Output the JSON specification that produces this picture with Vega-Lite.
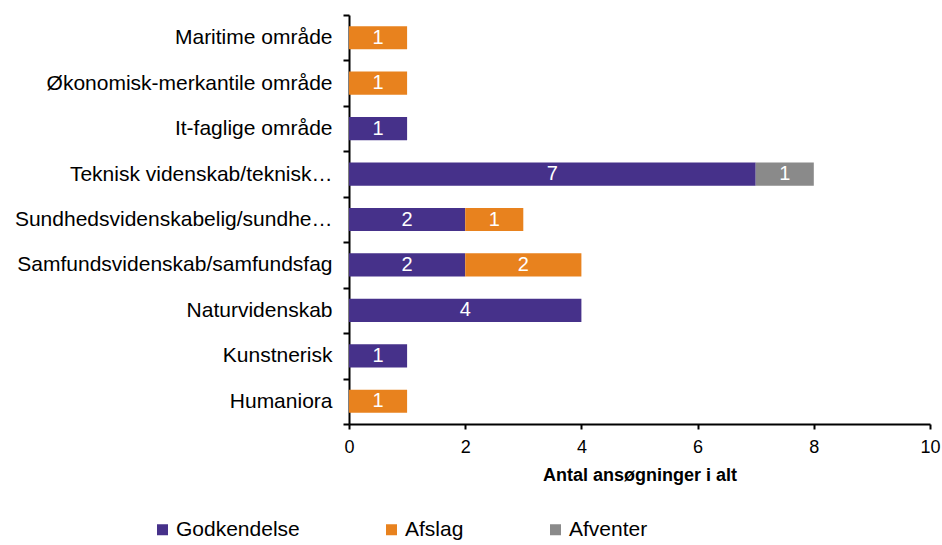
{
  "$schema": "https://vega.github.io/schema/vega-lite/v6.json",
  "width": 581,
  "height": 409,
  "autosize": {"type": "none"},
  "padding": {"left": 349, "top": 15, "right": 12, "bottom": 121},
  "background": "white",
  "config": {
    "view": {"stroke": null},
    "font": "Liberation Sans"
  },
  "data": {
    "values": [
      {"cat": "Maritime område", "status": "Afslag", "k": 2, "n": 1},
      {"cat": "Økonomisk-merkantile område", "status": "Afslag", "k": 2, "n": 1},
      {"cat": "It-faglige område", "status": "Godkendelse", "k": 1, "n": 1},
      {"cat": "Teknisk videnskab/teknisk…", "status": "Godkendelse", "k": 1, "n": 7},
      {"cat": "Teknisk videnskab/teknisk…", "status": "Afventer", "k": 3, "n": 1},
      {"cat": "Sundhedsvidenskabelig/sundhe…", "status": "Godkendelse", "k": 1, "n": 2},
      {"cat": "Sundhedsvidenskabelig/sundhe…", "status": "Afslag", "k": 2, "n": 1},
      {"cat": "Samfundsvidenskab/samfundsfag", "status": "Godkendelse", "k": 1, "n": 2},
      {"cat": "Samfundsvidenskab/samfundsfag", "status": "Afslag", "k": 2, "n": 2},
      {"cat": "Naturvidenskab", "status": "Godkendelse", "k": 1, "n": 4},
      {"cat": "Kunstnerisk", "status": "Godkendelse", "k": 1, "n": 1},
      {"cat": "Humaniora", "status": "Afslag", "k": 2, "n": 1}
    ]
  },
  "transform": [
    {"stack": "n", "groupby": ["cat"], "sort": [{"field": "k"}], "as": ["x0", "x1"]},
    {"calculate": "(datum.x0 + datum.x1) / 2", "as": "mid"}
  ],
  "encoding": {
    "y": {
      "field": "cat",
      "type": "nominal",
      "sort": ["Maritime område", "Økonomisk-merkantile område", "It-faglige område", "Teknisk videnskab/teknisk…", "Sundhedsvidenskabelig/sundhe…", "Samfundsvidenskab/samfundsfag", "Naturvidenskab", "Kunstnerisk", "Humaniora"],
      "scale": {"paddingInner": 0, "paddingOuter": 0},
      "axis": {
        "title": null,
        "domainColor": "black",
        "domainWidth": 2,
        "tickColor": "black",
        "tickWidth": 2,
        "tickSize": 6,
        "tickBand": "extent",
        "labelPadding": 11,
        "labelFontSize": 21,
        "labelColor": "black",
        "labelLimit": 400
      }
    }
  },
  "layer": [
    {
      "mark": {"type": "bar", "height": {"band": 0.51}},
      "encoding": {
        "x": {
          "field": "x0",
          "type": "quantitative",
          "scale": {"domain": [0, 10]},
          "axis": {
            "title": "Antal ansøgninger i alt",
            "titleFontSize": 18,
            "titleFontWeight": "bold",
            "titleColor": "black",
            "titlePadding": 10,
            "values": [0, 2, 4, 6, 8, 10],
            "format": "d",
            "grid": false,
            "domainColor": "black",
            "domainWidth": 2,
            "tickColor": "black",
            "tickWidth": 2,
            "tickSize": 5,
            "labelFontSize": 18,
            "labelColor": "black",
            "labelPadding": 9,
            "labelFlush": false
          }
        },
        "x2": {"field": "x1"},
        "color": {
          "field": "status",
          "type": "nominal",
          "scale": {"domain": ["Godkendelse", "Afslag", "Afventer"], "range": ["#46318A", "#E8821E", "#8A8A8A"]},
          "legend": {
            "title": null,
            "orient": "none",
            "legendX": -197,
            "legendY": 504,
            "direction": "horizontal",
            "columns": 3,
            "padding": 0,
            "symbolType": "square",
            "symbolSize": 121,
            "symbolStrokeWidth": 0,
            "labelFontSize": 21,
            "labelColor": "black",
            "labelOffset": 3,
            "columnPadding": 81,
            "labelLimit": 300
          }
        }
      }
    },
    {
      "mark": {"type": "text", "color": "white", "fontSize": 20, "baseline": "middle", "align": "center"},
      "encoding": {
        "x": {"field": "mid", "type": "quantitative"},
        "text": {"field": "n", "type": "quantitative"}
      }
    }
  ]
}
